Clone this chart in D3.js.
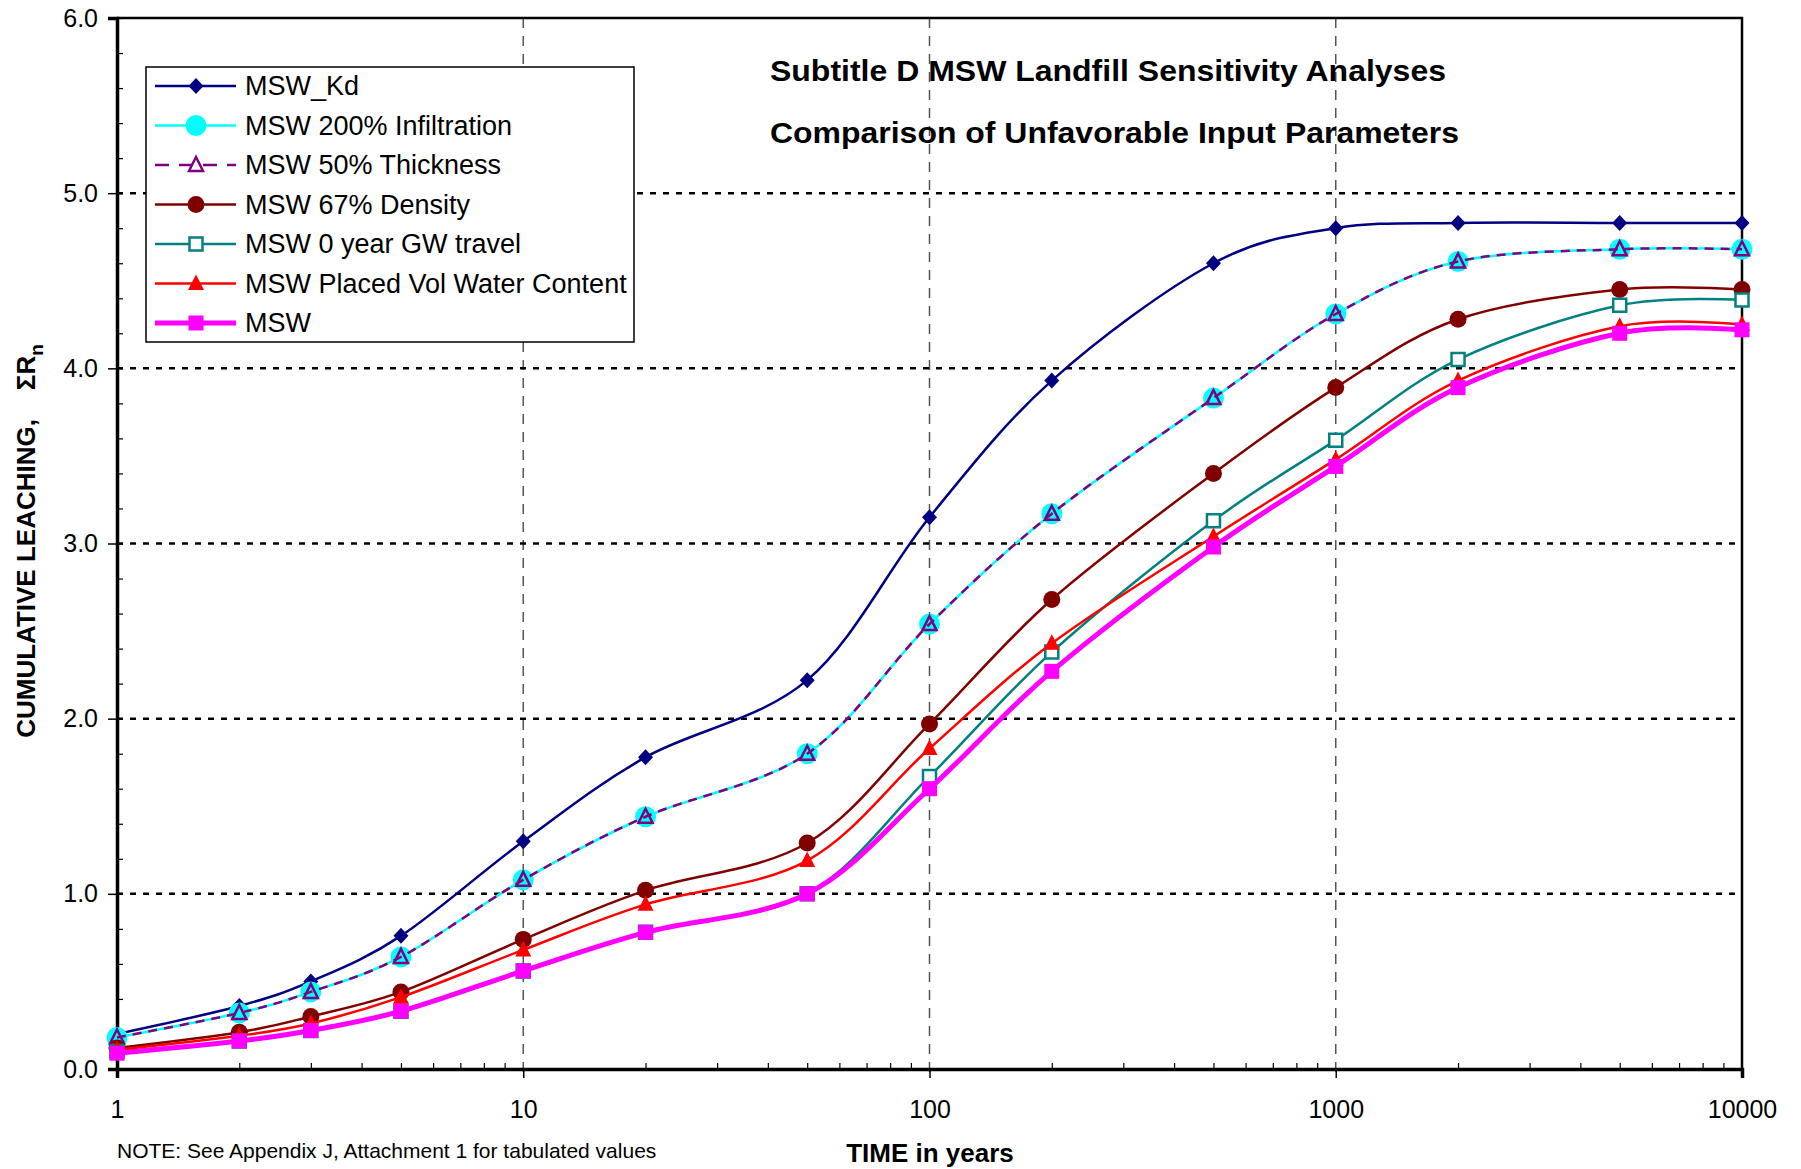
<!doctype html>
<html>
<head>
<meta charset="UTF-8">
<title>Subtitle D MSW Landfill Sensitivity Analyses</title>
<script src="https://d3js.org/d3.v7.min.js"></script>
<style>
  body { margin: 0; background: #fff; }
  text { font-family: "Liberation Sans", Arial, sans-serif; }
</style>
</head>
<body>
<script>
// ---- data ----
var years = [1, 2, 3, 5, 10, 20, 50, 100, 200, 500, 1000, 2000, 5000, 10000];

var mswKd        = [0.20, 0.36, 0.50, 0.76, 1.30, 1.78, 2.22, 3.15, 3.93, 4.60, 4.80, 4.83, 4.83, 4.83];
var mswInfil     = [0.18, 0.32, 0.44, 0.64, 1.08, 1.44, 1.80, 2.54, 3.17, 3.83, 4.31, 4.61, 4.68, 4.68];
var mswThick     = [0.18, 0.32, 0.44, 0.64, 1.08, 1.44, 1.80, 2.54, 3.17, 3.83, 4.31, 4.61, 4.68, 4.68];
var mswDensity   = [0.12, 0.21, 0.30, 0.44, 0.74, 1.02, 1.29, 1.97, 2.68, 3.40, 3.89, 4.28, 4.45, 4.45];
var mswGW        = [0.10, 0.16, 0.22, 0.33, 0.56, 0.78, 1.00, 1.67, 2.38, 3.13, 3.59, 4.05, 4.36, 4.39];
var mswWater     = [0.11, 0.19, 0.26, 0.41, 0.68, 0.94, 1.19, 1.83, 2.43, 3.04, 3.48, 3.93, 4.24, 4.25];
var msw          = [0.09, 0.16, 0.22, 0.33, 0.56, 0.78, 1.00, 1.60, 2.27, 2.98, 3.44, 3.89, 4.20, 4.22];

var seriesNames = ["MSW_Kd", "MSW 200% Infiltration", "MSW 50% Thickness", "MSW 67% Density",
                   "MSW 0 year GW travel", "MSW Placed Vol Water Content", "MSW"];
var yTicks = [0, 1, 2, 3, 4, 5, 6];
var xTicks = [1, 10, 100, 1000, 10000];

var titleLines = ["Subtitle D MSW Landfill Sensitivity Analyses", "Comparison of Unfavorable Input Parameters"];

// ---- styles per series ----
var series = [
  {name: seriesNames[0], values: mswKd,      color: "#000080", width: 2.5, marker: "diamond",  fill: "#000080"},
  {name: seriesNames[1], values: mswInfil,   color: "#00FFFF", width: 2.5, marker: "circleBig", fill: "#00FFFF"},
  {name: seriesNames[2], values: mswThick,   color: "#800080", width: 2.5, marker: "triOpen", fill: "none", dash: "9,7"},
  {name: seriesNames[3], values: mswDensity, color: "#800000", width: 2.5, marker: "circle",   fill: "#800000"},
  {name: seriesNames[4], values: mswGW,      color: "#008080", width: 2.5, marker: "squareOpen", fill: "#fff"},
  {name: seriesNames[5], values: mswWater,   color: "#FF0000", width: 2.5, marker: "tri",      fill: "#FF0000"},
  {name: seriesNames[6], values: msw,        color: "#FF00FF", width: 5,   marker: "square",   fill: "#FF00FF"}
];

var W = 1801, H = 1169;
var m = {left: 117, right: 1742, top: 18, bottom: 1069};

var svg = d3.select("body").append("svg").attr("width", W).attr("height", H);
svg.append("rect").attr("width", W).attr("height", H).attr("fill", "#fff");

var x = d3.scaleLog().domain([1, 10000]).range([m.left, m.right]);
var y = d3.scaleLinear().domain([0, 6]).range([m.bottom, m.top]);

// gridlines
svg.append("g").selectAll("line").data([10, 100, 1000]).join("line")
  .attr("x1", d => x(d)).attr("x2", d => x(d))
  .attr("y1", m.top).attr("y2", m.bottom + 8)
  .attr("stroke", "#555").attr("stroke-width", 1.5).attr("stroke-dasharray", "10,8");

svg.append("g").selectAll("line").data([1, 2, 3, 4, 5]).join("line")
  .attr("x1", m.left).attr("x2", m.right - 6)
  .attr("y1", d => y(d)).attr("y2", d => y(d))
  .attr("stroke", "#000").attr("stroke-width", 2.5).attr("stroke-dasharray", "6,7");

// frame top/right
svg.append("path")
  .attr("d", "M" + m.left + "," + m.top + "H" + m.right + "V" + m.bottom)
  .attr("fill", "none").attr("stroke", "#000").attr("stroke-width", 2.5);

// y axis
var yMinor = d3.range(0, 6.01, 0.2);
var yMinorAxis = d3.axisLeft(y).tickValues(yMinor).tickSize(-6).tickFormat("");
svg.append("g").attr("transform", "translate(" + m.left + ",0)").call(yMinorAxis)
  .call(g => g.select(".domain").remove())
  .selectAll("line").attr("stroke", "#000").attr("stroke-width", 1.2);
var yAxis = d3.axisLeft(y).tickValues(yTicks).tickSize(9).tickPadding(10).tickFormat(d3.format(".1f"));
var gy = svg.append("g").attr("transform", "translate(" + m.left + ",0)").call(yAxis);
gy.select(".domain").attr("stroke", "#000").attr("stroke-width", 3.5);
gy.selectAll("line").attr("stroke", "#000").attr("stroke-width", 1.5);
gy.selectAll("text").attr("font-size", 25).attr("fill", "#000")
  .style("font-family", "'Liberation Sans', Arial, sans-serif");

// x axis
var xMinor = [];
[1, 10, 100, 1000].forEach(function (p) { for (var k = 2; k <= 9; k++) xMinor.push(p * k); });
var xMinorAxis = d3.axisBottom(x).tickValues(xMinor).tickSize(-6).tickFormat("");
svg.append("g").attr("transform", "translate(0," + m.bottom + ")").call(xMinorAxis)
  .call(g => g.select(".domain").remove())
  .selectAll("line").attr("stroke", "#000").attr("stroke-width", 1.2);
var xAxis = d3.axisBottom(x).tickValues(xTicks).tickSize(9).tickPadding(22).tickFormat(d3.format("d"));
var gx = svg.append("g").attr("transform", "translate(0," + m.bottom + ")").call(xAxis);
gx.select(".domain").attr("stroke", "#000").attr("stroke-width", 3.5);
gx.selectAll("line").attr("stroke", "#000").attr("stroke-width", 1.5);
gx.selectAll("text").attr("font-size", 25).attr("fill", "#000")
  .style("font-family", "'Liberation Sans', Arial, sans-serif");

// marker shapes
function markerPath(type) {
  switch (type) {
    case "diamond": return "M0,-8L7.5,0L0,8L-7.5,0Z";
    case "circleBig": return d3.symbol(d3.symbolCircle, Math.PI * 10.5 * 10.5)();
    case "circle": return d3.symbol(d3.symbolCircle, Math.PI * 8.5 * 8.5)();
    case "triOpen": return "M0,-8L7,6L-7,6Z";
    case "tri": return "M0,-9L8,6.5L-8,6.5Z";
    case "squareOpen": return "M-6.5,-6.5H6.5V6.5H-6.5Z";
    case "square": return "M-7.5,-7.5H7.5V7.5H-7.5Z";
  }
}

var line = d3.line()
  .x(d => x(d[0])).y(d => y(d[1]))
  .curve(d3.curveCardinal.tension(0));

series.forEach(function (s) {
  var pts = years.map((yr, i) => [yr, s.values[i]]);
  var g = svg.append("g");
  g.append("path").datum(pts)
    .attr("d", line)
    .attr("fill", "none")
    .attr("stroke", s.color)
    .attr("stroke-width", s.width)
    .attr("stroke-dasharray", s.dash || null);
  g.selectAll("path.mk").data(pts).join("path")
    .attr("class", "mk")
    .attr("transform", d => "translate(" + x(d[0]) + "," + y(d[1]) + ")")
    .attr("d", markerPath(s.marker))
    .attr("fill", s.fill)
    .attr("stroke", s.marker === "triOpen" || s.marker === "squareOpen" ? s.color : "none")
    .attr("stroke-width", 2.5);
});

// legend
var lg = svg.append("g");
lg.append("rect").attr("x", 146).attr("y", 67).attr("width", 488).attr("height", 275)
  .attr("fill", "#fff").attr("stroke", "#000").attr("stroke-width", 1.5);
var legY = d3.scalePoint().domain(seriesNames).range([86, 323]);
series.forEach(function (s) {
  var ly = legY(s.name);
  lg.append("line").attr("x1", 155).attr("x2", 236).attr("y1", ly).attr("y2", ly)
    .attr("stroke", s.color).attr("stroke-width", s.width)
    .attr("stroke-dasharray", s.dash ? "14,10" : null);
  lg.append("path").attr("transform", "translate(196," + ly + ")")
    .attr("d", markerPath(s.marker))
    .attr("fill", s.marker === "triOpen" ? "#fff" : s.fill)
    .attr("stroke", s.marker === "triOpen" || s.marker === "squareOpen" ? s.color : "none")
    .attr("stroke-width", 2.5);
  lg.append("text").attr("x", 245).attr("y", ly + 9)
    .attr("font-size", 27).text(s.name);
});

// titles
svg.selectAll("text.title").data(titleLines).join("text")
  .attr("class", "title")
  .attr("x", 770).attr("y", (d, i) => 81 + i * 62)
  .attr("font-size", 29).attr("font-weight", "bold")
  .attr("textLength", (d, i) => i === 0 ? 676 : 689)
  .attr("lengthAdjust", "spacingAndGlyphs")
  .text(d => d);

// axis titles
var yt = svg.append("text")
  .attr("transform", "translate(35,541) rotate(-90)")
  .attr("text-anchor", "middle")
  .attr("font-size", 26).attr("font-weight", "bold");
yt.append("tspan").text("CUMULATIVE LEACHING,\u00a0\u00a0\u00a0\u00a0\u03a3R");
yt.append("tspan").attr("dy", 8).attr("font-size", 19).text("n");

svg.append("text").attr("x", 930).attr("y", 1162)
  .attr("text-anchor", "middle").attr("font-size", 26).attr("font-weight", "bold")
  .text("TIME in years");

svg.append("text").attr("x", 117).attr("y", 1158)
  .attr("font-size", 21)
  .text("NOTE: See Appendix J, Attachment 1 for tabulated values");
</script>
</body>
</html>
